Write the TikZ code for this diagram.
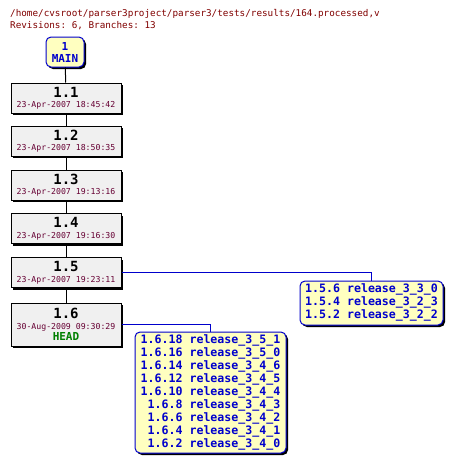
\documentclass[tikz,border=0pt]{standalone}
\usepackage{fontspec}
\setmonofont{DejaVu Sans Mono}
\usetikzlibrary{shadows}
\definecolor{titlecol}{RGB}{128,0,0}
\definecolor{datecol}{RGB}{102,0,51}
\definecolor{tagblue}{RGB}{0,0,204}
\definecolor{tagfill}{RGB}{255,255,192}
\definecolor{revfill}{RGB}{240,240,240}
\definecolor{headgreen}{RGB}{0,128,0}
\newcommand{\revtxt}[2]{{\fontsize{14}{14}\selectfont\bfseries #1}\\[-1.5pt]{\color{datecol}\fontsize{8.2}{9}\selectfont #2}}
\begin{document}
\begin{tikzpicture}[x=1pt,y=-1pt,
  revbox/.style={draw=black,line width=1pt,fill=revfill,minimum width=110pt,minimum height=30pt,inner sep=0pt,align=center,font=\ttfamily,
    drop shadow={shadow xshift=2pt,shadow yshift=-2pt,fill=black,opacity=1}},
  tagbox/.style={draw=tagblue,line width=1pt,fill=tagfill,rounded corners=5pt,inner sep=0pt,align=center,text=tagblue,
    font=\ttfamily\bfseries\fontsize{11.6}{13}\selectfont,
    drop shadow={shadow xshift=2pt,shadow yshift=-2pt,fill=black,opacity=1}},
  vline/.style={draw=black,line width=1pt},
  bline/.style={draw=tagblue,line width=1pt}]
\useasboundingbox (0,0) rectangle (453,464);
\node[anchor=base west,inner sep=0pt,text=titlecol,font=\ttfamily\fontsize{9.3}{11}\selectfont] (t1) at (10,16.5) {/home/cvsroot/parser3project/parser3/tests/results/164.processed,v};
\node[anchor=base west,inner sep=0pt,text=titlecol,font=\ttfamily\fontsize{9.3}{11}\selectfont] (t2) at (10,28) {Revisions: 6, Branches: 13};

\node[tagbox,minimum width=38pt,minimum height=30pt,font=\ttfamily\bfseries\fontsize{11}{12}\selectfont] (main) at (65,52) {1\\MAIN};

\node[revbox] (r1) at (66,98) {\revtxt{1.1}{23-Apr-2007 18:45:42}};
\node[revbox] (r2) at (66,141) {\revtxt{1.2}{23-Apr-2007 18:50:35}};
\node[revbox] (r3) at (66,185) {\revtxt{1.3}{23-Apr-2007 19:13:16}};
\node[revbox] (r4) at (66,228.5) {\revtxt{1.4}{23-Apr-2007 19:16:30}};
\node[revbox] (r5) at (66,272.5) {\revtxt{1.5}{23-Apr-2007 19:23:11}};
\node[revbox,minimum height=43pt] (r6) at (66,324.5) {\revtxt{1.6}{30-Aug-2009 09:30:29}\\[-1pt]{\color{headgreen}\fontsize{11}{12}\selectfont\bfseries HEAD}};

\node[tagbox,minimum width=143pt,minimum height=44pt] (b1) at (371.5,303) {%
\begin{tabular}{@{}r@{ }l@{}}1.5.6 & release\_3\_3\_0\\1.5.4 & release\_3\_2\_3\\1.5.2 & release\_3\_2\_2\end{tabular}};
\node[tagbox,minimum width=151pt,minimum height=121pt] (b2) at (210.5,392.5) {%
\begin{tabular}{@{}r@{ }l@{}}1.6.18 & release\_3\_5\_1\\1.6.16 & release\_3\_5\_0\\1.6.14 & release\_3\_4\_6\\1.6.12 & release\_3\_4\_5\\1.6.10 & release\_3\_4\_4\\1.6.8 & release\_3\_4\_3\\1.6.6 & release\_3\_4\_2\\1.6.4 & release\_3\_4\_1\\1.6.2 & release\_3\_4\_0\end{tabular}};

\draw[vline] (main) -- (r1);
\draw[vline] (r1) -- (r2);
\draw[vline] (r2) -- (r3);
\draw[vline] (r3) -- (r4);
\draw[vline] (r4) -- (r5);
\draw[vline] (r5) -- (r6);
\draw[bline] (r5.east) -| (b1.north);
\draw[bline] (r6.east) -| (b2.north);
\end{tikzpicture}
\end{document}
